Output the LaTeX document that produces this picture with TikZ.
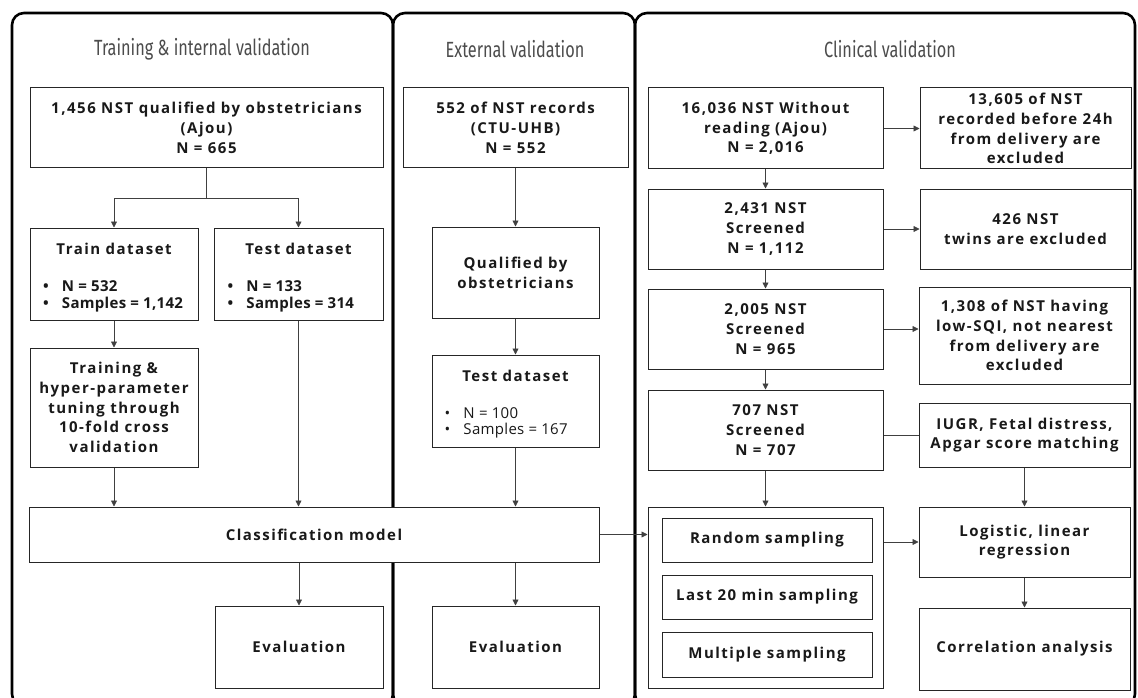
\documentclass[tikz,border=0pt]{standalone}
\usepackage{fontspec}
\usepackage{graphicx}
\setmainfont{Open Sans}[LetterSpace=10]
\newfontfamily\headfont{Fira Sans}
\usetikzlibrary{positioning,arrows.meta}

\newcommand\itemline[2][142pt]{\makebox[#1][l]{\makebox[19pt][l]{\textbullet}\addfontfeature{LetterSpace=2}#2}}
\newcommand\headtext[1]{\scalebox{0.74}[1]{#1}}

\begin{document}
\begin{tikzpicture}[x=1pt, y=-1pt,
    >={Triangle[length=6pt,width=6pt]},
    every node/.style = {font=\fontsize{15}{19.7}\selectfont\bfseries, text=black!90},
    blk/.style = {draw=black!85, fill=white, line width=1pt, inner sep=2pt, align=center},
    panel/.style = {draw=black, line width=2.6pt, rounded corners=12pt},
    head/.style = {font=\headfont\fontsize{22}{26}\selectfont, text=black!70},
    arr/.style = {draw=black!75, line width=0.8pt, ->},
    every edge/.style = {arr}]
  \useasboundingbox (0,0) rectangle (1138,698);
  % three panels
  \draw[panel] (12,13) rectangle (393,706);
  \draw[panel] (393,13) rectangle (635,706);
  \draw[panel] (635,13) rectangle (1135,706);
  \node (h1) [head] at (202,49) {\headtext{Training \& internal validation}};
  \node (h2) [head] at (515,49) {\headtext{External validation}};
  \node (h3) [head] at (890,49) {\headtext{Clinical validation}};

  % training & internal validation
  \node (q665) [blk, minimum width=353, minimum height=80] at (206.5,128)
    {1,456 NST qualified by obstetricians\\(Ajou)\\N = 665};
  \node (train) [blk, minimum width=168, minimum height=92] at (114,274)
    {\rule{0pt}{19pt}Train dataset\\[17pt]
     \itemline{N = 532}\\[-2pt] \itemline{Samples = 1,142}};
  \node (test) [blk, minimum width=169, minimum height=92] at (298.5,274)
    {\rule{0pt}{19pt}Test dataset\\[17pt]
     \itemline{N = 133}\\[-2pt] \itemline{Samples = 314}};
  \node (tune) [blk, minimum width=168, minimum height=119] at (114,407.5)
    {Training \&\\hyper-parameter\\tuning through\\10-fold cross\\validation};
  \node (cls) [blk, minimum width=570, minimum height=55] at (314,534.5)
    {Classification model};
  \node (leval) [blk, minimum width=168, minimum height=82] at (299,647) {Evaluation};
  \coordinate (split) at (206.5,198);

  % external validation
  \node (m552) [blk, minimum width=225, minimum height=80] at (515.5,128)
    {552 of NST records\\(CTU-UHB)\\N = 552};
  \node (qual) [blk, minimum width=167, minimum height=91] at (515.5,272.5)
    {Qualified by\\obstetricians};
  \node (mtest) [blk, minimum width=167, minimum height=92] at (515.5,401)
    {\rule{0pt}{18pt}Test dataset\\[17pt]
     \mdseries\itemline{N = 100}\\[-3pt] \mdseries\itemline{Samples = 167}};
  \node (meval) [blk, minimum width=167, minimum height=82] at (515.5,647) {Evaluation};

  % clinical validation
  \node (s16036) [blk, minimum width=235, minimum height=81] at (765.5,128.5)
    {16,036 NST Without\\reading (Ajou)\\N = 2,016};
  \node (x13605) [blk, minimum width=211, minimum height=81, right=36pt of s16036]
    {13,605 of NST\\recorded before 24h\\from delivery are\\excluded};
  \node (s2431) [blk, minimum width=235, minimum height=80, below=19pt of s16036]
    {2,431 NST\\Screened\\N = 1,112};
  \node (x426) [blk, minimum width=211, minimum height=80, right=36pt of s2431]
    {426 NST\\twins are excluded};
  \node (s2005) [blk, minimum width=235, minimum height=80, below=19pt of s2431]
    {2,005 NST\\Screened\\N = 965};
  \node (x1308) [blk, minimum width=211, minimum height=97] at (1024.5,335.5)
    {1,308 of NST having\\low-SQI, not nearest\\from delivery are\\excluded};
  \node (s707) [blk, minimum width=235, minimum height=80, below=20pt of s2005]
    {707 NST\\Screened\\N = 707};
  \node (iugr) [blk, minimum width=211, minimum height=64] at (1024.5,435)
    {IUGR, Fetal distress,\\Apgar score matching};
  \node (samp) [blk, minimum width=235, minimum height=181] at (765.5,597.5) {};
  \node (rand)  [blk, minimum width=210, minimum height=44] at (767,540) {Random sampling};
  \node (last)  [blk, minimum width=210, minimum height=44] at (767,597) {Last 20 min sampling};
  \node (multi) [blk, minimum width=210, minimum height=45] at (767,654.5) {Multiple sampling};
  \node (logit) [blk, minimum width=211, minimum height=70] at (1024.5,542)
    {Logistic, linear\\regression};
  \node (corr)  [blk, minimum width=211, minimum height=82] at (1024.5,649)
    {Correlation analysis};

  % connectors
  \draw[draw=black!75, line width=0.8pt] (q665) -- (split);
  \draw[arr] (split) -| (train);
  \draw[arr] (split) -| (test);
  \draw (train) edge (tune);
  \draw[arr] (test) -- (test |- cls.north);
  \draw[arr] (tune) -- (tune |- cls.north);
  \draw[arr] (cls.south -| leval) -- (leval);
  \draw (m552) edge (qual);
  \draw (qual) edge (mtest);
  \draw[arr] (mtest) -- (mtest |- cls.north);
  \draw[arr] (cls.south -| meval) -- (meval);
  \draw[arr] (cls.east) -- (cls.east -| samp.west);
  \draw (s16036) edge (x13605);
  \draw (s16036) edge (s2431);
  \draw (s2431) edge (x426);
  \draw (s2431) edge (s2005);
  \draw[arr] (s2005.east) -- (s2005.east -| x1308.west);
  \draw (s2005) edge (s707);
  \draw[draw=black!75, line width=0.8pt] (iugr.west -| s707.east) -- (iugr.west);
  \draw (s707) edge (samp);
  \draw[arr] (samp.east |- logit.west) -- (logit.west);
  \draw (iugr) edge (logit);
  \draw (logit) edge (corr);
\end{tikzpicture}
\end{document}
